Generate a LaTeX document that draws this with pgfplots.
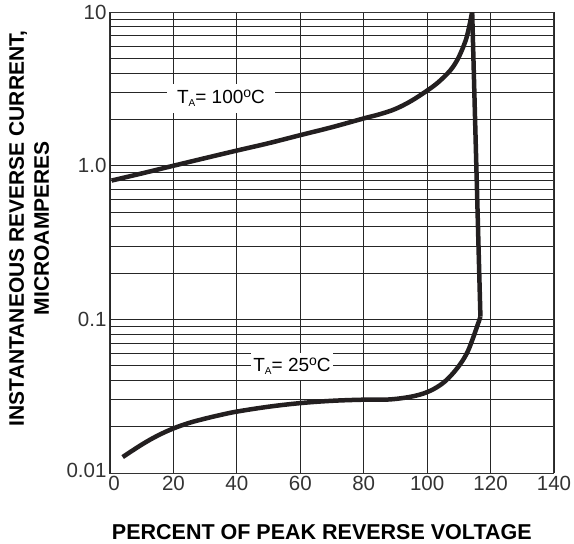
\documentclass[border=0pt]{standalone}
\usepackage{fontspec}
\setmainfont{Liberation Sans}
\usepackage{pgfplots}
\pgfplotsset{compat=1.18}
\definecolor{curve}{HTML}{231F20}
\newcommand{\subA}{\raisebox{-3pt}{\fontsize{10}{10}\selectfont A}}
\newcommand{\degr}{\raisebox{6pt}{\fontsize{14}{14}\selectfont o}}

\begin{document}
\begin{tikzpicture}
\useasboundingbox (-110pt,-71pt) rectangle (464pt,473pt);
\begin{axis}[
    at={(0pt,0pt)}, anchor=south west,
    scale only axis,
    width=444pt, height=461pt,
    xmin=0, xmax=140,
    ymode=log, ymin=0.01, ymax=10,
    xtick={0,20,...,140},
    xticklabels={\hspace{8pt}0,20,40,60,80,100,120,140},
    ytick={0.01,0.1,1,10},
    yticklabels={\raisebox{5pt}{0.01},0.1\hspace{7pt},1.0\hspace{7pt},10},
    grid=both,
    major grid style={black!85, line width=0.8pt},
    minor grid style={black!85, line width=0.8pt},
    axis line style={black!80, line width=1pt},
    major tick length=0pt, minor tick length=0pt,
    tick label style={font=\fontsize{20.5}{24}\selectfont, text=black!80},
    xlabel={PERCENT OF PEAK REVERSE VOLTAGE},
    xlabel style={at={(axis description cs:0.477,-0.1453)}, anchor=base,
        font=\bfseries\fontsize{21.5}{25}\selectfont},
    ylabel={INSTANTANEOUS REVERSE CURRENT,\\MICROAMPERES},
    ylabel style={at={(axis description cs:-0.182,0.531)}, anchor=center,
        align=center, font=\bfseries\fontsize{21}{25}\selectfont},
  ]

% T_A = 100 C
\addplot[curve, line width=4.5pt, smooth, tension=0.6] coordinates {
(0.5,0.80) (10,0.89) (20,0.999) (30,1.12) (40,1.254) (50,1.40) (60,1.58)
(70,1.78) (80,2.03) (85,2.16) (90,2.34) (95,2.64) (100,3.08) (103,3.42)
(106,3.9) (108,4.35) (110,5.1) (112,6.4) (113,7.6) (114.2,10)
};
% breakdown
\addplot[curve, line width=4.5pt] coordinates {(114.2,10) (116.8,0.104)};
% T_A = 25 C
\addplot[curve, line width=4.5pt, smooth, tension=0.6] coordinates {
(4,0.0127) (10,0.0153) (15,0.0175) (20,0.0195) (25,0.0212) (30,0.0226)
(35,0.0239) (40,0.0251) (50,0.0270) (60,0.0285) (70,0.0295) (80,0.0300)
(88,0.0301) (95,0.0314) (100,0.0336) (104,0.0372) (107,0.0420)
(110,0.0497) (112.5,0.0600) (114.2,0.0730) (115.6,0.0880) (116.8,0.104)
};

\node[fill=white, inner xsep=10pt, inner ysep=6pt, font=\fontsize{19}{22}\selectfont]
    at (axis cs:35,2.73) {T\subA= 100\degr C};
\node[fill=white, inner xsep=2pt, inner ysep=5pt, font=\fontsize{19}{22}\selectfont]
    at (axis cs:57.4,0.0493) {T\subA= 25\degr C};
\end{axis}
\end{tikzpicture}
\end{document}
